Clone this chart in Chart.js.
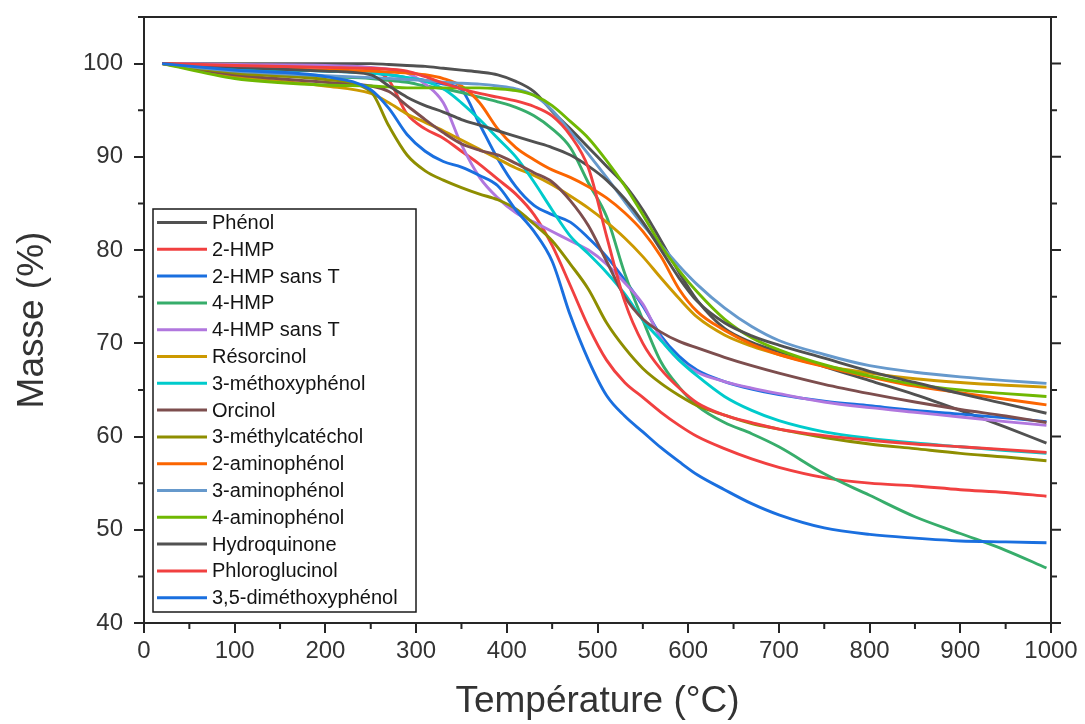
<!DOCTYPE html>
<html>
<head>
<meta charset="utf-8">
<script src="https://cdn.jsdelivr.net/npm/chart.js@4.4.1/dist/chart.umd.min.js"></script>
<style>
  html, body { margin: 0; padding: 0; background: #ffffff; }
  #wrap { width: 1085px; height: 724px; }
</style>
</head>
<body>
<div id="wrap"><canvas id="c" width="1085" height="724"></canvas></div>
<script>
// ---- Data (Température °C -> Masse %) ----
const temps = [20, 100, 200, 250, 270, 290, 310, 330, 350, 370, 390, 410, 430, 450, 470, 490, 510, 530, 550, 570, 590, 610, 640, 670, 700, 750, 800, 850, 900, 950, 995];

const phenol         = [100, 100, 100, 100, 99.9, 99.8, 99.7, 99.5, 99.3, 99.1, 98.8, 98.1, 97.0, 94.9, 93.0, 91.0, 89.0, 87.0, 84.3, 81.0, 77.6, 74.6, 71.6, 70.1, 69.1, 67.5, 66.0, 64.5, 62.8, 61.0, 59.3];
const hmp2           = [100, 99.8, 99.6, 99.4, 98.2, 94.6, 93.0, 92.0, 90.6, 89.2, 87.6, 86.0, 83.8, 80.5, 76.2, 71.8, 68.2, 65.8, 64.2, 62.6, 61.2, 60.0, 58.7, 57.6, 56.7, 55.6, 55.0, 54.7, 54.3, 54.0, 53.6];
const hmp2SansT      = [100, 99.5, 99.2, 99.0, 98.8, 98.5, 98.2, 97.8, 97.2, 93.5, 89.8, 86.8, 84.8, 83.8, 83.0, 81.3, 79.3, 76.8, 74.0, 70.8, 68.6, 67.1, 65.9, 65.1, 64.5, 63.8, 63.3, 62.8, 62.4, 62.0, 61.6];
const hmp4           = [100, 99.2, 98.6, 98.4, 98.2, 98.0, 97.6, 97.3, 96.9, 96.4, 95.9, 95.3, 94.4, 93.0, 91.0, 87.2, 83.6, 77.5, 72.5, 68.0, 65.3, 63.3, 61.5, 60.3, 58.9, 56.0, 53.7, 51.4, 49.6, 47.8, 45.9];
const hmp4SansT      = [100, 99.9, 99.8, 99.6, 99.4, 99.0, 97.8, 95.8, 91.3, 87.8, 85.6, 84.0, 83.0, 82.0, 81.0, 80.0, 78.5, 76.5, 74.2, 70.5, 68.2, 66.9, 65.9, 65.2, 64.6, 63.7, 63.1, 62.6, 62.1, 61.6, 61.2];
const resorcinol     = [100, 98.6, 97.6, 96.8, 95.8, 94.6, 93.7, 92.8, 91.8, 90.8, 89.8, 88.8, 88.0, 87.0, 85.8, 84.5, 83.0, 81.3, 79.3, 77.0, 74.8, 72.8, 70.9, 69.7, 68.8, 67.6, 66.8, 66.2, 65.8, 65.5, 65.3];
const methoxyphenol3 = [100, 99.5, 99.2, 99.0, 98.8, 98.5, 98.1, 97.3, 95.8, 94.0, 92.0, 90.0, 87.3, 84.3, 81.5, 79.6, 77.6, 75.3, 72.5, 70.3, 68.2, 66.5, 64.3, 62.8, 61.7, 60.5, 59.8, 59.3, 58.9, 58.5, 58.2];
const orcinol        = [100, 98.8, 98.0, 97.6, 97.0, 95.5, 94.0, 92.6, 91.4, 90.7, 90.2, 89.3, 88.3, 87.3, 85.3, 82.6, 78.8, 75.0, 72.6, 71.2, 70.2, 69.5, 68.5, 67.6, 66.8, 65.6, 64.6, 63.7, 62.9, 62.2, 61.5];
const methylcatechol = [100, 99.0, 98.3, 97.0, 93.3, 90.2, 88.5, 87.5, 86.7, 86.0, 85.4, 84.4, 82.8, 81.0, 78.5, 75.8, 72.2, 69.5, 67.3, 65.7, 64.4, 63.3, 62.3, 61.4, 60.8, 59.9, 59.2, 58.7, 58.2, 57.8, 57.4];
const aminophenol2   = [100, 99.7, 99.3, 99.2, 99.1, 99.0, 98.8, 98.4, 97.6, 95.8, 93.0, 91.0, 89.7, 88.6, 87.8, 86.8, 85.6, 84.0, 82.0, 79.3, 75.8, 73.4, 71.4, 69.9, 68.8, 67.5, 66.4, 65.4, 64.7, 64.0, 63.4];
const aminophenol3   = [100, 99.2, 98.7, 98.5, 98.4, 98.3, 98.2, 98.0, 97.9, 97.8, 97.6, 97.3, 96.6, 95.0, 92.7, 90.3, 87.8, 85.2, 82.7, 80.5, 78.3, 76.3, 73.8, 71.8, 70.3, 68.8, 67.6, 66.9, 66.4, 66.0, 65.7];
const aminophenol4   = [100, 98.4, 97.7, 97.6, 97.5, 97.4, 97.4, 97.4, 97.4, 97.4, 97.3, 97.1, 96.6, 95.5, 93.8, 92.0, 89.6, 86.9, 83.8, 80.5, 77.8, 75.5, 72.6, 70.6, 69.3, 67.7, 66.5, 65.6, 65.0, 64.6, 64.3];
const hydroquinone   = [100, 99.6, 99.2, 98.8, 97.6, 96.4, 95.5, 94.8, 94.0, 93.4, 92.8, 92.2, 91.6, 91.0, 90.2, 89.0, 87.5, 85.5, 83.0, 80.0, 77.0, 74.5, 72.2, 70.8, 69.8, 68.4, 67.0, 65.8, 64.6, 63.5, 62.5];
const phloroglucinol = [100, 99.8, 99.6, 99.5, 99.4, 99.2, 98.6, 97.9, 97.3, 96.8, 96.4, 96.0, 95.4, 94.4, 92.3, 88.8, 81.5, 74.5, 70.0, 67.2, 65.2, 63.6, 62.3, 61.5, 60.8, 60.1, 59.6, 59.2, 58.9, 58.6, 58.3];
const dimethoxy35    = [100, 99.3, 98.6, 97.2, 95.2, 92.4, 90.6, 89.5, 88.9, 88.0, 86.9, 84.3, 82.0, 78.8, 73.0, 68.2, 64.4, 62.2, 60.5, 58.8, 57.3, 55.9, 54.3, 52.8, 51.6, 50.2, 49.5, 49.1, 48.8, 48.7, 48.6];

const seriesNames  = ["Phénol", "2-HMP", "2-HMP sans T", "4-HMP", "4-HMP sans T", "Résorcinol", "3-méthoxyphénol", "Orcinol", "3-méthylcatéchol", "2-aminophénol", "3-aminophénol", "4-aminophénol", "Hydroquinone", "Phloroglucinol", "3,5-diméthoxyphénol"];
const seriesValues = [phenol, hmp2, hmp2SansT, hmp4, hmp4SansT, resorcinol, methoxyphenol3, orcinol, methylcatechol, aminophenol2, aminophenol3, aminophenol4, hydroquinone, phloroglucinol, dimethoxy35];
const seriesColors = ["#515151", "#F14040", "#1A6FDF", "#37AD6B", "#B177DE", "#CC9900", "#00CBCC", "#7D4E4E", "#8E8E00", "#FB6501", "#6699CC", "#6FB802", "#515151", "#F14040", "#1A6FDF"];

const xTickValues = [0, 100, 200, 300, 400, 500, 600, 700, 800, 900, 1000];
const yTickValues = [40, 50, 60, 70, 80, 90, 100];
const xMinorValues = [50, 150, 250, 350, 450, 550, 650, 750, 850, 950];
const yMinorValues = [45, 55, 65, 75, 85, 95, 105];

const FONT = "'Liberation Sans', Arial, 'DejaVu Sans', sans-serif";
const AXIS_COLOR = '#262626';

const datasets = seriesValues.map((vals, i) => ({
  label: seriesNames[i],
  data: temps.map((t, k) => ({ x: t, y: vals[k] })),
  borderColor: seriesColors[i],
  backgroundColor: seriesColors[i],
  borderWidth: 2.9,
  pointRadius: 0,
  fill: false,
  cubicInterpolationMode: 'monotone',
  order: seriesValues.length - i
}));

const framePlugin = {
  id: 'frame',
  afterDraw(chart) {
    const ctx = chart.ctx;
    const ca = chart.chartArea;
    const xs = chart.scales.x, ys = chart.scales.y;
    ctx.save();
    ctx.strokeStyle = AXIS_COLOR;
    ctx.lineWidth = 2;
    ctx.beginPath();
    ctx.moveTo(ca.left - 1, ca.top);
    ctx.lineTo(ca.right + 1, ca.top);
    ctx.moveTo(ca.right, ca.top);
    ctx.lineTo(ca.right, ca.bottom);
    ctx.stroke();
    ctx.beginPath();
    yTickValues.forEach(v => { const y = ys.getPixelForValue(v); ctx.moveTo(ca.right, y); ctx.lineTo(ca.right + 10, y); });
    yMinorValues.forEach(v => { const y = ys.getPixelForValue(v); ctx.moveTo(ca.right, y); ctx.lineTo(ca.right + 6, y); });
    yMinorValues.forEach(v => { const y = ys.getPixelForValue(v); ctx.moveTo(ca.left, y); ctx.lineTo(ca.left - 6, y); });
    xMinorValues.forEach(v => { const x = xs.getPixelForValue(v); ctx.moveTo(x, ca.bottom); ctx.lineTo(x, ca.bottom + 6); });
    ctx.stroke();

    const bx = 153, by = 209, bw = 263, bh = 403;
    ctx.fillStyle = '#ffffff';
    ctx.fillRect(bx, by, bw, bh);
    ctx.lineWidth = 1.5;
    ctx.strokeStyle = '#1a1a1a';
    ctx.strokeRect(bx, by, bw, bh);
    const rowH = 26.8, y0 = 222.5;
    ctx.font = '20px ' + FONT;
    ctx.textBaseline = 'middle';
    ctx.textAlign = 'left';
    chart.data.datasets.forEach((ds, i) => {
      const y = y0 + i * rowH;
      ctx.strokeStyle = ds.borderColor;
      ctx.lineWidth = 3;
      ctx.beginPath();
      ctx.moveTo(157, y);
      ctx.lineTo(207, y);
      ctx.stroke();
      ctx.fillStyle = '#141414';
      ctx.fillText(ds.label, 212, y + 1);
    });
    ctx.restore();
  }
};

new Chart(document.getElementById('c'), {
  type: 'line',
  data: { datasets },
  options: {
    responsive: false,
    animation: false,
    devicePixelRatio: 1,
    layout: { padding: { top: 17, right: 34, left: 0, bottom: 0 } },
    plugins: { legend: { display: false }, tooltip: { enabled: false } },
    scales: {
      x: {
        type: 'linear', min: 0, max: 1000,
        afterBuildTicks: ax => { ax.ticks = xTickValues.map(v => ({ value: v })); },
        afterFit: s => { s.height = 101; s.paddingLeft = 0; s.paddingRight = 0; },
        ticks: { font: { size: 24, family: FONT }, color: '#333333', padding: 4, maxRotation: 0, autoSkip: false, callback: v => String(v) },
        grid: { display: true, drawOnChartArea: false, drawTicks: true, tickLength: 10, color: AXIS_COLOR, lineWidth: 2, tickWidth: 2 },
        border: { display: true, color: AXIS_COLOR, width: 2 },
        title: { display: true, text: 'Température (°C)', font: { size: 37, family: FONT }, color: '#333333', padding: { top: 0, bottom: 0 } }
      },
      y: {
        type: 'linear', min: 40, max: 105,
        afterBuildTicks: ax => { ax.ticks = yTickValues.map(v => ({ value: v })); },
        afterFit: s => { s.width = 144; s.paddingTop = 0; s.paddingBottom = 0; },
        ticks: { font: { size: 24, family: FONT }, color: '#333333', padding: 11, autoSkip: false, callback: v => String(v) },
        grid: { display: true, drawOnChartArea: false, drawTicks: true, tickLength: 10, color: AXIS_COLOR, lineWidth: 2, tickWidth: 2 },
        border: { display: true, color: AXIS_COLOR, width: 2 },
        title: { display: true, text: 'Masse (%)', font: { size: 37, family: FONT }, color: '#333333', padding: { top: 11, bottom: 0 } }
      }
    }
  },
  plugins: [framePlugin]
});
</script>
</body>
</html>
